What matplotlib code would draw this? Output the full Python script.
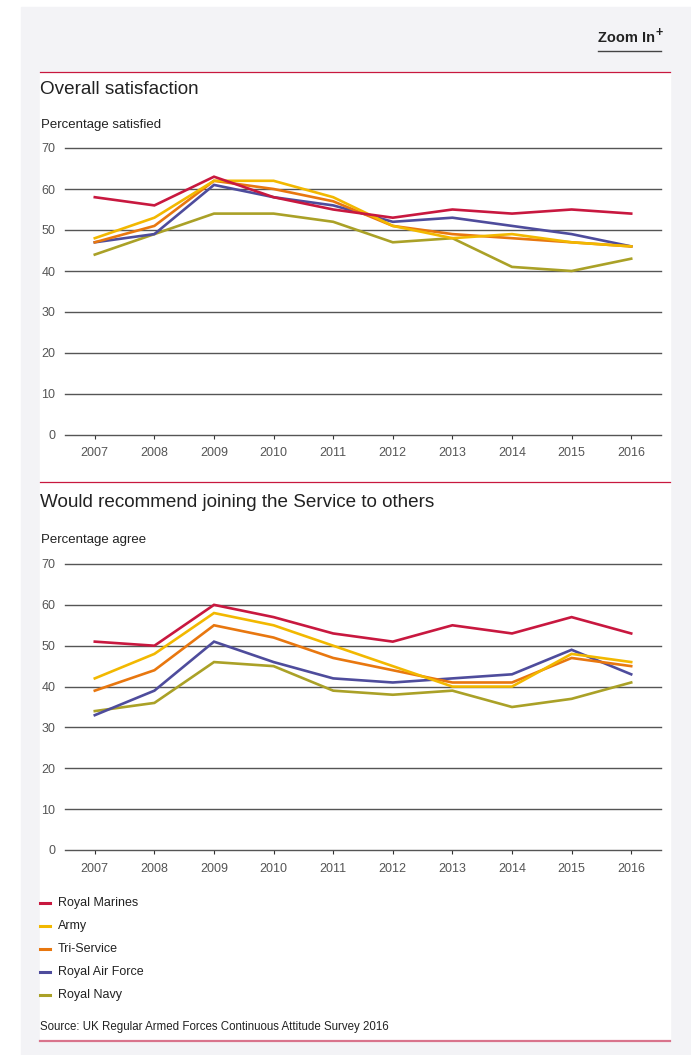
import matplotlib.pyplot as plt
from matplotlib.patches import Rectangle
from matplotlib.lines import Line2D

plt.rcParams['font.family'] = ['Liberation Sans', 'DejaVu Sans']

years = [2007, 2008, 2009, 2010, 2011, 2012, 2013, 2014, 2015, 2016]
services = ['Royal Marines', 'Army', 'Tri-Service', 'Royal Air Force', 'Royal Navy']
colors = ['#c8183f', '#f2b800', '#e8770f', '#4e4c9c', '#aaa127']

# percentage satisfied
satisfied_marines = [58, 56, 63, 58, 55, 53, 55, 54, 55, 54]
satisfied_army = [48, 53, 62, 62, 58, 51, 48, 49, 47, 46]
satisfied_tri = [47, 51, 62, 60, 57, 51, 49, 48, 47, 46]
satisfied_raf = [47, 49, 61, 58, 56, 52, 53, 51, 49, 46]
satisfied_navy = [44, 49, 54, 54, 52, 47, 48, 41, 40, 43]

# percentage who would recommend joining
recommend_marines = [51, 50, 60, 57, 53, 51, 55, 53, 57, 53]
recommend_army = [42, 48, 58, 55, 50, 45, 40, 40, 48, 46]
recommend_tri = [39, 44, 55, 52, 47, 44, 41, 41, 47, 45]
recommend_raf = [33, 39, 51, 46, 42, 41, 42, 43, 49, 43]
recommend_navy = [34, 36, 46, 45, 39, 38, 39, 35, 37, 41]

y_ticks = [0, 10, 20, 30, 40, 50, 60, 70]

W, H = 691, 1055
fig = plt.figure(figsize=(W / 100, H / 100), dpi=100, facecolor='white')


def fx(x):
    return x / W


def fy(y):
    return 1 - y / H


def hline(x0, x1, y, color, lw):
    fig.add_artist(Line2D([fx(x0), fx(x1)], [fy(y), fy(y)], color=color, lw=lw,
                          transform=fig.transFigure))


# page background and white card
fig.add_artist(Rectangle((fx(21), 0), fx(W) - fx(21), fy(7), color='#f3f3f6',
                         transform=fig.transFigure, zorder=0))
fig.add_artist(Rectangle((fx(40), fy(1041)), fx(670) - fx(40), fy(72) - fy(1041),
                         color='white', transform=fig.transFigure, zorder=0))

fig.text(fx(655), fy(38), 'Zoom In', ha='right', va='center', fontsize=10.5,
         fontweight='bold', color='#222222')
fig.text(fx(655.5), fy(33), '+', ha='left', va='center', fontsize=9,
         fontweight='bold', color='#222222')
hline(598, 661, 51, '#444444', 1.0)

hline(40, 670, 72, '#c8183f', 0.9)
hline(40, 670, 482, '#c8183f', 0.9)
hline(40, 670, 1041, '#d9748c', 1.6)


def draw_panel(top, bottom, series, title, title_y, subtitle, subtitle_y):
    fig.text(fx(40), fy(title_y), title, ha='left', va='center', fontsize=13.6,
             color='#222222')
    fig.text(fx(41), fy(subtitle_y), subtitle, ha='left', va='center', fontsize=9.5,
             color='#222222')
    ax = fig.add_axes([fx(65), fy(bottom), fx(661) - fx(65), fy(top) - fy(bottom)])
    ax.patch.set_alpha(0)
    # draw navy first so marines sit on top
    for values, c in list(zip(series, colors))[::-1]:
        ax.plot(years, values, color=c, lw=1.9, solid_joinstyle='miter', zorder=3)
    ax.set_xlim(2006.5, 2016.5)
    ax.set_ylim(0, 70)
    ax.set_yticks(y_ticks)
    ax.set_xticks(years)
    ax.grid(axis='y', color='#555555', lw=1.0)
    for gl in ax.get_ygridlines():
        gl.set_clip_on(False)
    ax.set_axisbelow(True)
    for s in ax.spines.values():
        s.set_visible(False)
    ax.tick_params(axis='y', length=0, pad=7, labelsize=9, labelcolor='#555555')
    ax.tick_params(axis='x', length=3, width=0.8, color='#333333', pad=6,
                   labelsize=9, labelcolor='#555555')
    return ax


draw_panel(148, 435,
           [satisfied_marines, satisfied_army, satisfied_tri, satisfied_raf, satisfied_navy],
           'Overall satisfaction', 89, 'Percentage satisfied', 125)
draw_panel(564, 850,
           [recommend_marines, recommend_army, recommend_tri, recommend_raf, recommend_navy],
           'Would recommend joining the Service to others', 503, 'Percentage agree', 540)

# legend
for i, (name, c) in enumerate(zip(services, colors)):
    y = 903 + i * 23
    hline(40, 50, y, c, 2.2)
    fig.text(fx(58), fy(y), name, ha='left', va='center', fontsize=9, color='#222222')

fig.text(fx(40), fy(1027), 'Source: UK Regular Armed Forces Continuous Attitude Survey 2016',
         ha='left', va='center', fontsize=8.3, color='#222222')

fig.savefig('out.png', dpi=100)
